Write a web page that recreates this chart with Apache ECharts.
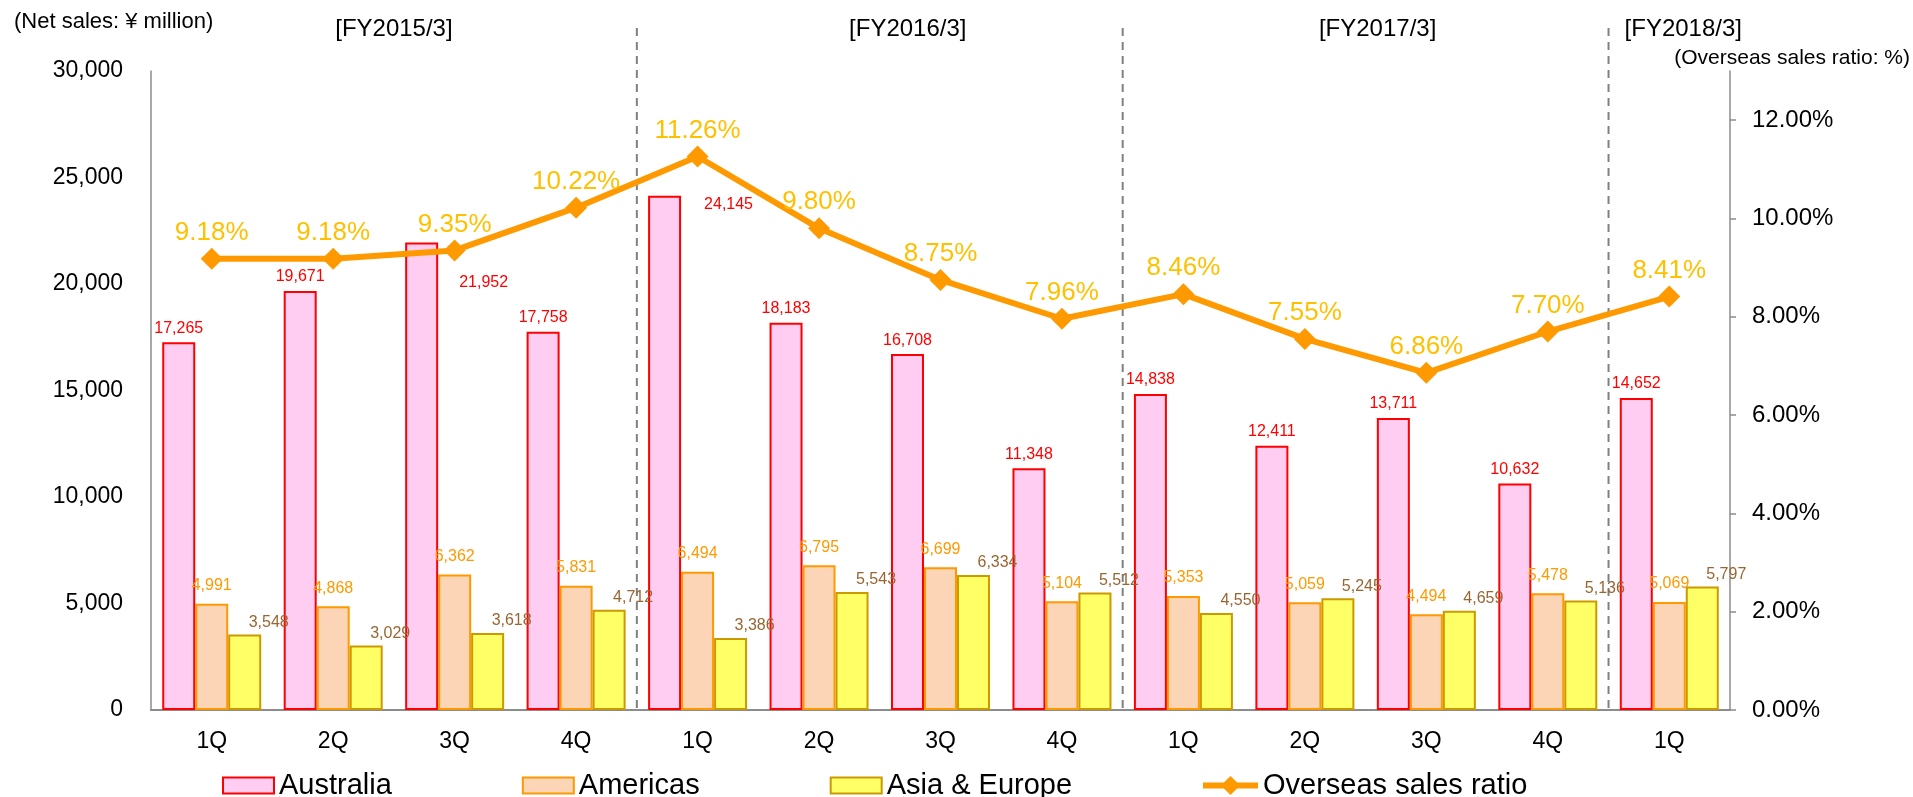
<!DOCTYPE html>
<html>
<head>
<meta charset="utf-8">
<title>Net sales by region and overseas sales ratio</title>
<script src="https://cdn.jsdelivr.net/npm/echarts@6/dist/echarts.min.js"></script>
<style>
  html, body { margin: 0; padding: 0; background: #ffffff; }
  #chart { width: 1913px; height: 797px; }
</style>
</head>
<body>
<div id="chart"></div>
<script>
// Quarterly net sales (¥ million) per region and the overseas sales ratio (%)
const quarters = ['1Q', '2Q', '3Q', '4Q', '1Q', '2Q', '3Q', '4Q', '1Q', '2Q', '3Q', '4Q', '1Q'];
const fiscalYears = ['[FY2015/3]', '[FY2016/3]', '[FY2017/3]', '[FY2018/3]'];
const quartersPerYear = [4, 4, 4, 1];

const australia = [17265, 19671, 21952, 17758, 24145, 18183, 16708, 11348, 14838, 12411, 13711, 10632, 14652];
const americas = [4991, 4868, 6362, 5831, 6494, 6795, 6699, 5104, 5353, 5059, 4494, 5478, 5069];
const asiaEurope = [3548, 3029, 3618, 4712, 3386, 5543, 6334, 5512, 4550, 5245, 4659, 5136, 5797];
const overseasRatio = [9.18, 9.18, 9.35, 10.22, 11.26, 9.80, 8.75, 7.96, 8.46, 7.55, 6.86, 7.70, 8.41];

const salesTicks = [0, 5000, 10000, 15000, 20000, 25000, 30000];
const ratioTicks = [0, 2, 4, 6, 8, 10, 12];

const FONT = "'Liberation Sans', Arial, sans-serif";
const fmtNum = v => Number(v).toLocaleString('en-US');

// Australia labels that would sit under the ratio line are moved beside their bar
const besideBar = { 2: [54, 40], 4: [56, 9] };
const australiaData = australia.map((v, i) => besideBar[i]
  ? { value: v, label: { position: besideBar[i], align: 'left', verticalAlign: 'middle' } }
  : v);

// Small horizontal nudges for the fiscal-year headers
const headerNudge = [0, 28, 12, 14];

const chart = echarts.init(document.getElementById('chart'), null, { renderer: 'canvas' });

const barLabel = (color, extra) => Object.assign({
  show: true,
  position: 'top',
  color: color,
  fontFamily: FONT,
  fontSize: 16,
  formatter: p => fmtNum(p.value)
}, extra || {});

const legendText = { fontSize: 29, color: '#000000', fontFamily: FONT };

const option = {
  animation: false,
  backgroundColor: '#ffffff',
  textStyle: { fontFamily: FONT },
  grid: { left: 151, right: 183, top: 71, bottom: 87, containLabel: false },
  legend: [
    {
      data: ['Australia', 'Americas', 'Asia & Europe'],
      icon: 'rect',
      left: 217, top: 766,
      itemWidth: 51, itemHeight: 16, itemGap: 130,
      textStyle: legendText,
      selectedMode: false
    },
    {
      data: ['Overseas sales ratio'],
      left: 1195, top: 766,
      itemWidth: 55, itemHeight: 24,
      lineStyle: { width: 6 },
      textStyle: legendText,
      selectedMode: false
    }
  ],
  xAxis: {
    type: 'category',
    data: quarters,
    boundaryGap: true,
    axisLine: { show: true, lineStyle: { color: '#8c8c8c', width: 2 } },
    axisTick: { show: false },
    axisLabel: { color: '#000000', fontSize: 23, fontFamily: FONT, margin: 20 },
    splitLine: { show: false }
  },
  yAxis: [
    {
      type: 'value',
      min: 0, max: 30000, interval: 5000,
      axisLine: { show: true, lineStyle: { color: '#8c8c8c', width: 1.5 } },
      axisTick: { show: false },
      splitLine: { show: false },
      axisLabel: {
        color: '#000000', fontSize: 23, fontFamily: FONT, margin: 28,
        customValues: salesTicks,
        formatter: v => fmtNum(v)
      }
    },
    {
      type: 'value',
      min: 0, max: 13,
      position: 'right',
      axisLine: { show: true, lineStyle: { color: '#8c8c8c', width: 1.5 } },
      axisTick: { show: true, inside: false, length: 6, lineStyle: { color: '#8c8c8c', width: 1.5 }, customValues: ratioTicks },
      splitLine: { show: false },
      axisLabel: {
        color: '#000000', fontSize: 24, fontFamily: FONT, margin: 22,
        customValues: ratioTicks,
        formatter: v => v.toFixed(2) + '%'
      }
    }
  ],
  series: [
    {
      name: 'Australia',
      type: 'bar',
      data: australiaData,
      barGap: '0%',
      barCategoryGap: '18.5%',
      itemStyle: { color: '#FFCCF2', borderColor: '#FF0000', borderWidth: 2 },
      label: barLabel('#FF0000', { distance: 6 }),
      emphasis: { disabled: true },
      z: 2
    },
    {
      name: 'Americas',
      type: 'bar',
      data: americas,
      itemStyle: { color: '#FBD5B5', borderColor: '#FF9900', borderWidth: 2 },
      label: barLabel('#FF9900', { distance: 10 }),
      emphasis: { disabled: true },
      z: 2
    },
    {
      name: 'Asia & Europe',
      type: 'bar',
      data: asiaEurope,
      itemStyle: { color: '#FFFF66', borderColor: '#CC9900', borderWidth: 2 },
      label: barLabel('#996633', { distance: 4, offset: [24, 0] }),
      emphasis: { disabled: true },
      z: 2
    },
    {
      name: 'Overseas sales ratio',
      type: 'line',
      yAxisIndex: 1,
      data: overseasRatio,
      symbol: 'diamond',
      symbolSize: 22,
      lineStyle: { color: '#FF9900', width: 6 },
      itemStyle: { color: '#FF9900' },
      label: {
        show: true,
        position: 'top',
        distance: 2,
        color: '#FFC000',
        fontFamily: FONT,
        fontSize: 26,
        formatter: p => p.value.toFixed(2) + '%'
      },
      emphasis: { disabled: true },
      z: 5
    }
  ]
};

chart.setOption(option);

// Fiscal-year separators, year headers and axis unit captions,
// placed from the category axis scale
function drawAnnotations() {
  const xAt = i => chart.convertToPixel({ xAxisIndex: 0 }, i);
  const yBase = chart.convertToPixel({ yAxisIndex: 0 }, 0);
  const elements = [];
  let start = 0;
  quartersPerYear.forEach((n, k) => {
    const end = start + n - 1;
    const left = start > 0 ? (xAt(start - 1) + xAt(start)) / 2 : null;
    const centre = (xAt(start) + xAt(end)) / 2 + headerNudge[k];
    if (left !== null) {
      elements.push({
        type: 'line',
        shape: { x1: left, y1: 28, x2: left, y2: yBase - 1 },
        style: { stroke: '#808080', lineWidth: 2, lineDash: [8, 6] },
        z: 1
      });
    }
    elements.push({
      type: 'text',
      x: centre, y: 29,
      style: {
        text: fiscalYears[k], fill: '#000000', font: '24px ' + FONT,
        textAlign: 'center', textVerticalAlign: 'middle'
      }
    });
    start += n;
  });
  elements.push({
    type: 'text', x: 14, y: 22,
    style: { text: '(Net sales: ¥ million)', fill: '#000000', font: '22px ' + FONT, textAlign: 'left', textVerticalAlign: 'middle' }
  });
  elements.push({
    type: 'text', x: 1910, y: 58,
    style: { text: '(Overseas sales ratio: %)', fill: '#000000', font: '21px ' + FONT, textAlign: 'right', textVerticalAlign: 'middle' }
  });
  chart.setOption({ graphic: { elements: elements } });
}
drawAnnotations();
</script>
</body>
</html>
